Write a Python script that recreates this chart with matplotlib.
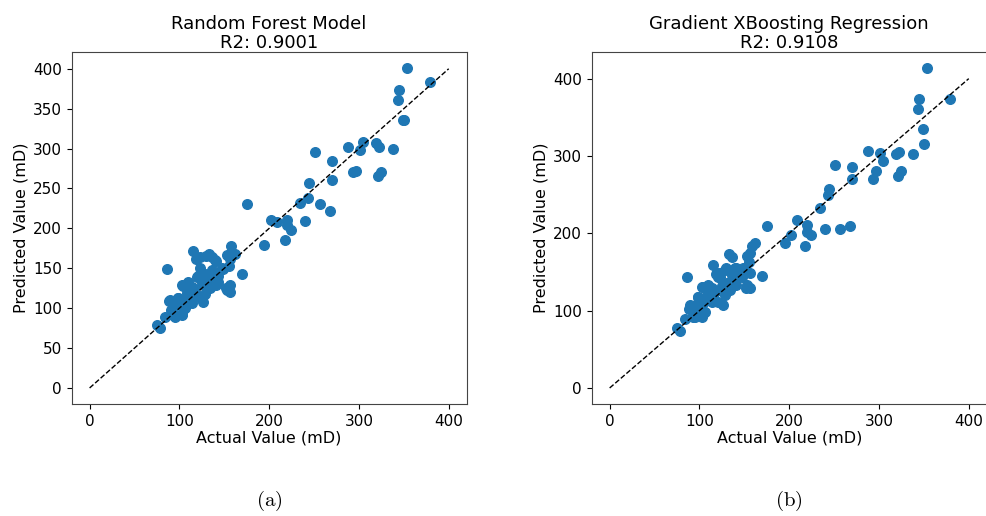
import numpy as np
import matplotlib.pyplot as plt

# actual permeability values of the test set (mD), shared by both models
actual = [
    353.8, 379.0, 344.5, 343.4, 349.0, 350.5, 251.4, 270.0, 288.0, 304.3,
    301.3, 319.2, 322.0, 337.8, 293.0, 296.8, 321.0, 324.8, 244.3, 270.2,
    243.6, 234.6, 256.2, 267.4, 175.4, 201.5, 209.0, 220.0, 220.3, 223.8,
    239.5, 217.5, 194.8, 169.8, 158.0, 161.6, 152.7, 156.0, 155.7, 148.2,
    156.4, 152.7, 156.4, 152.0, 114.7, 119.0, 123.0, 133.3, 136.0, 141.0,
    130.0, 85.7, 136.0, 128.5, 121.0, 143.4, 141.0, 134.0, 110.0, 103.5,
    113.6, 124.8, 130.3, 117.3, 108.0, 98.7, 88.6, 104.3, 113.6, 126.6,
    91.2, 106.0, 95.0, 103.2, 83.8, 75.2, 78.0, 119.2, 139.7, 147.1,
    102.4, 109.9, 115.4, 126.6, 136.0, 143.4, 89.4, 98.7, 113.6, 93.0,
    104.3, 93.0, 102.4, 121.0, 128.4, 96.7, 134.0, 122.8,
]

# Random Forest predictions
pred_rf = [
    401.0, 383.6, 373.0, 360.6, 336.4, 335.6, 295.5, 285.0, 302.0, 308.4,
    298.0, 306.8, 302.0, 299.0, 270.5, 272.0, 265.0, 270.5, 256.7, 260.0,
    238.3, 231.6, 230.4, 221.6, 230.4, 210.4, 207.4, 210.4, 204.0, 197.4,
    208.7, 186.0, 179.0, 142.3, 177.8, 167.8, 166.5, 161.0, 152.8, 148.6,
    129.0, 123.0, 120.6, 125.0, 171.5, 161.5, 163.6, 167.4, 164.0, 159.0,
    165.0, 148.6, 147.7, 142.3, 140.2, 140.2, 129.0, 124.8, 132.3, 127.7,
    126.9, 131.9, 133.0, 120.6, 118.5, 113.0, 109.3, 108.0, 106.0, 107.3,
    97.7, 99.7, 89.3, 92.7, 89.3, 78.9, 75.5, 139.4, 160.0, 149.8,
    129.0, 131.9, 124.8, 129.0, 131.0, 133.0, 110.3, 112.4, 110.3, 100.0,
    102.2, 91.4, 91.4, 115.0, 118.0, 104.0, 138.0, 150.0,
]

# Gradient boosting predictions
pred_xgb = [
    413.8, 374.2, 374.2, 361.3, 335.5, 316.0, 288.2, 286.0, 305.8, 293.3,
    303.2, 302.0, 304.5, 302.0, 270.5, 280.9, 274.4, 280.9, 256.8, 269.7,
    249.5, 232.7, 205.6, 209.9, 209.0, 197.4, 217.6, 211.2, 202.2, 197.8,
    205.2, 183.7, 187.0, 145.0, 183.7, 187.0, 170.8, 174.2, 163.4, 155.7,
    149.2, 133.3, 129.0, 129.0, 158.7, 147.5, 148.4, 172.9, 169.9, 155.7,
    154.8, 144.0, 146.2, 152.6, 144.0, 144.0, 133.3, 137.6, 133.3, 131.2,
    129.0, 132.5, 135.4, 124.6, 120.4, 117.0, 102.4, 109.7, 111.8, 107.5,
    103.1, 98.8, 91.2, 94.6, 89.5, 77.4, 74.0, 148.3, 154.8, 144.0,
    131.0, 120.4, 122.6, 131.0, 139.7, 144.0, 106.7, 118.2, 121.3, 98.9,
    99.8, 92.3, 92.3, 111.8, 120.4, 106.7, 126.9, 144.0,
]

titles = ['Random Forest Model', 'Gradient XBoosting Regression']
r2_scores = [0.9001, 0.9108]
captions = ['(a)', '(b)']

plt.rcParams['mathtext.fontset'] = 'cm'

fig = plt.figure(figsize=(9.87, 5.16), dpi=100)
ax_rf = fig.add_axes([0.0726, 0.2171, 0.4002, 0.6822])
ax_xgb = fig.add_axes([0.5995, 0.2171, 0.4002, 0.6822])

for ax, preds, title, r2, cap in zip([ax_rf, ax_xgb], [pred_rf, pred_xgb],
                                     titles, r2_scores, captions):
    ax.scatter(actual, preds, s=48, color='#1f77b4', zorder=2)
    ax.plot([0, 400], [0, 400], 'k--', linewidth=1.0, zorder=3)
    ax.set_title(f'{title}\nR2: {r2:.4f}', fontsize=13, pad=3, linespacing=1.05)
    ax.set_xlabel('Actual Value (mD)', fontsize=11.5, labelpad=1)
    ax.set_ylabel('Predicted Value (mD)', fontsize=11.5, labelpad=3)
    ax.tick_params(labelsize=11)
    for s in ax.spines.values():
        s.set_color('#444444')
    pos = ax.get_position()
    fig.text(pos.x0 + pos.width / 2, 0.005, r'$\mathrm{' + cap + '}$',
             ha='center', va='bottom', fontsize=15)

fig.savefig('out.png', dpi=100)
